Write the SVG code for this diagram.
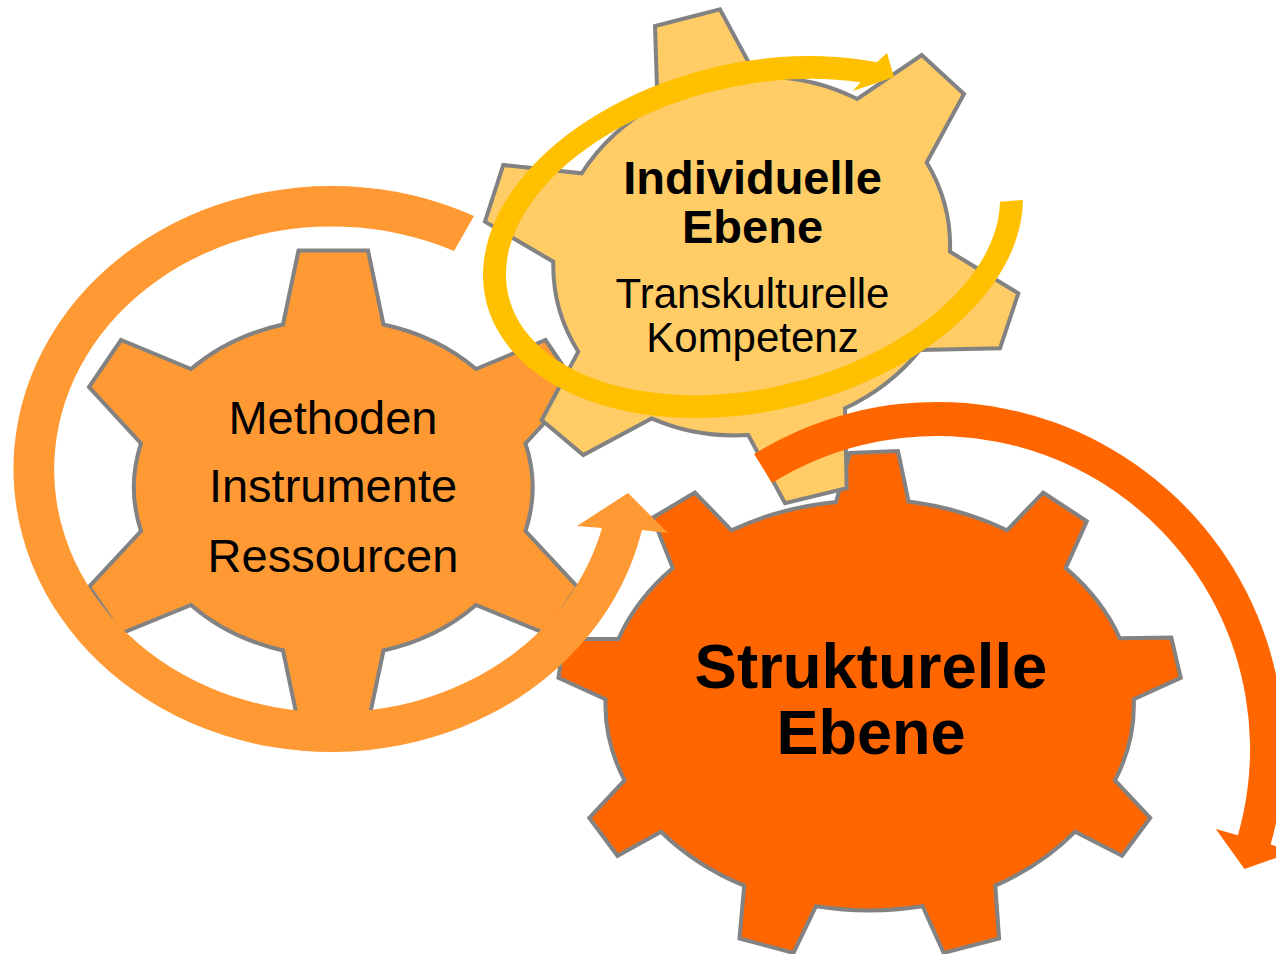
<svg xmlns="http://www.w3.org/2000/svg" width="1276" height="954" viewBox="0 0 1276 954">
  <style>
    .gear { stroke: #828282; stroke-width: 4; stroke-linejoin: miter; }
    .g-light { fill: #FF9933; }
    .g-yellow { fill: #FFCC66; }
    .g-dark { fill: #FF6600; }
    .lbl { font-family: "Liberation Sans", Arial, sans-serif; fill: #000; text-anchor: middle; }
    .bold { font-weight: bold; }
  </style>

  <rect width="1276" height="954" fill="#FFFFFF"/>

  <!-- Methods / instruments / resources gear -->
  <g id="gear-methoden">
    <path class="gear g-light" d="M 283,324.5 L 298.5,250.5 L 368,250.5 L 383.5,324.5
      A 200 166 0 0 1 476,369 L 545.5,340 L 577.5,387 L 525.5,443.5
      A 200 166 0 0 1 525.5,531 L 577.5,587 L 545.5,633.5 L 476,605
      A 200 166 0 0 1 383.5,650.5 L 368,724 L 298.5,724 L 283,650.5
      A 200 166 0 0 1 191,605 L 121,633.5 L 89,587 L 141,531
      A 200 166 0 0 1 141,443.5 L 89,387 L 121,340 L 191,369
      A 200 166 0 0 1 283,324.5 Z"/>
    <text class="lbl" x="333" y="433.5" font-size="47">Methoden</text>
    <text class="lbl" x="333" y="502" font-size="47">Instrumente</text>
    <text class="lbl" x="333" y="572" font-size="47">Ressourcen</text>
  </g>

  <!-- Structural level gear -->
  <g id="gear-strukturell">
    <path class="gear g-dark" d="M 836,502 L 850,453 L 898,451 L 908.5,501.5
      A 266 204 0 0 1 1007,530.3 L 1043.2,492.5 L 1086.8,521.3 L 1065.7,568.1
      A 266 204 0 0 1 1119.7,638.2 L 1171.3,637.5 L 1180.7,677.8 L 1133.8,699.3
      A 266 204 0 0 1 1115,780.3 L 1150.2,818 L 1122.1,855.8 L 1075.1,831.7
      A 266 204 0 0 1 995.3,885.7 L 999.1,938.5 L 943.7,952.9 L 922.6,906.2
      A 266 204 0 0 1 816,906.2 L 793.5,952.9 L 739.5,938.5 L 744.2,885.7
      A 266 204 0 0 1 661.1,831.7 L 617.5,855.8 L 589.3,818 L 624.5,780.3
      A 266 204 0 0 1 605.5,699.3 L 558.5,677.8 L 564,639 L 618.5,639
      A 266 204 0 0 1 672.8,568.1 L 652.7,517.7 L 694.9,492.5 L 731.5,530.3
      A 266 204 0 0 1 836,502 Z"/>
    <text class="lbl bold" x="871" y="688" font-size="63.5">Strukturelle</text>
    <text class="lbl bold" x="871" y="753.5" font-size="63">Ebene</text>
  </g>

  <!-- Individual level gear -->
  <g id="gear-individuell">
    <path class="gear g-yellow" d="M 657.5,104 L 655,26 L 720,9.3 L 756.5,77
      A 200 179 -15 0 1 857.3,99 L 921.7,55 L 964,94 L 926.7,162.5
      A 200 179 -15 0 1 950,251.7 L 1018.3,293.3 L 1000,348.3 L 920,350
      A 200 179 -15 0 1 845,408.3 L 846.7,488.3 L 785,503.3 L 748.3,435
      A 200 179 -15 0 1 651.6,418.4 L 583.3,455 L 541.7,420 L 578.3,351.7
      A 200 179 -15 0 1 553.3,261.7 L 485,221.7 L 503.3,165 L 581.7,173.3
      A 200 179 -15 0 1 657.5,104 Z"/>
    <text class="lbl bold" x="752.5" y="193.5" font-size="47">Individuelle</text>
    <text class="lbl bold" x="752.5" y="243" font-size="47">Ebene</text>
    <text class="lbl" x="752.5" y="307.5" font-size="42">Transkulturelle</text>
    <text class="lbl" x="752.5" y="352" font-size="42">Kompetenz</text>
  </g>

  <!-- Circular arrows -->
  <g id="connectors">
    <!-- ring around the methods gear, ending in an upward arrow -->
    <path fill="#FF9933" d="M 474,216 A 318 283 0 1 0 642,530 L 668,533 L 628,493 L 577,526 L 602,528
      A 278 243 0 1 1 454,251 Z"/>
    <!-- tilted ring around the individual gear -->
    <path fill="#FFC000" transform="translate(753,237) rotate(-13.56)"
      d="M 271.1,27.2 A 274.5 174 0 1 1 161.35,-140.77 L 173.4,-147.45 L 174.6,-122.5 L 131.45,-118.5 L 140.64,-125.18
      A 251.5 151 0 1 0 248.4,23.6 Z"/>
    <!-- arc over the structural gear -->
    <path fill="#FF6600" d="M 754.1,454.1 A 347 347 0 0 1 1270.6,844.6 L 1294.6,851.5 L 1244.5,868.9 L 1215.8,828.9 L 1237.9,835.3
      A 313 313 0 0 0 772,483 Z"/>
  </g>
</svg>
